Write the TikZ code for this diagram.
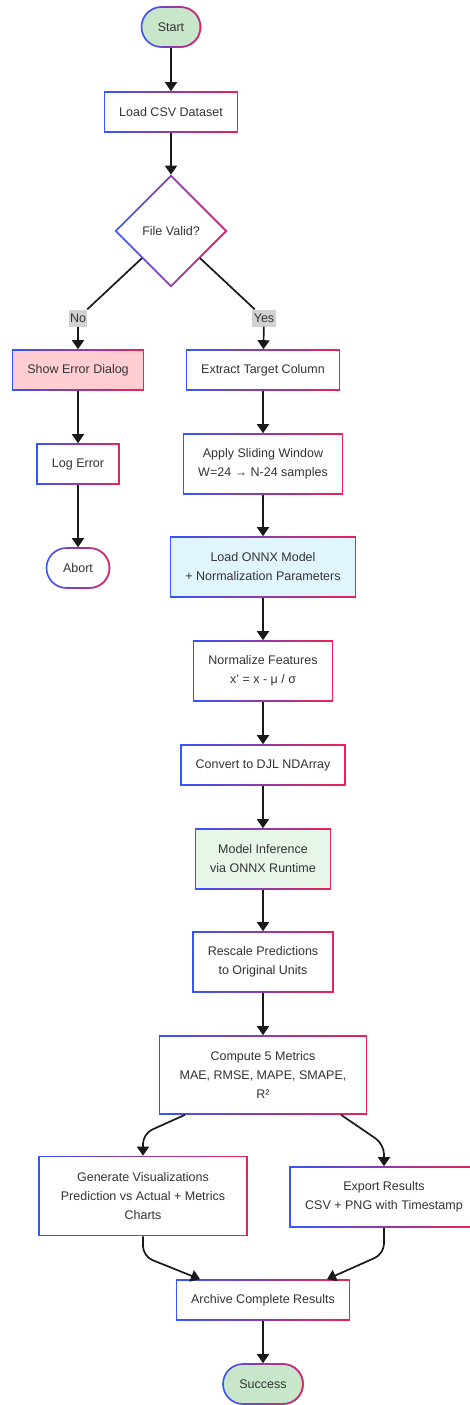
\documentclass[tikz,border=0pt]{standalone}
\usepackage{fontspec}
\setmainfont{Liberation Sans}
\usetikzlibrary{shapes.geometric,shapes.misc,arrows.meta,fadings}

\definecolor{gblue}{RGB}{51,85,255}
\definecolor{gred}{RGB}{238,34,85}
\definecolor{txt}{RGB}{51,51,51}
\definecolor{startgreen}{RGB}{200,230,201}
\definecolor{errpink}{RGB}{255,205,210}
\definecolor{onnxblue}{RGB}{225,245,254}
\definecolor{infergreen}{RGB}{232,245,233}

\tikzfading[name=fadered, left color=transparent!100, right color=transparent!0]

\tikzset{
  gradborder/.style={draw=gblue, line width=1.6pt,
    postaction={draw=gred, line width=1.6pt, path fading=fadered}},
  flowbox/.style={rectangle, gradborder, fill=white, text=txt, align=center,
    minimum height=40pt, inner sep=2pt,
    font=\fontsize{12.5}{19}\selectfont},
  terminal/.style={flowbox, rounded rectangle},
  decision/.style={flowbox, diamond, minimum width=111pt, minimum height=111pt},
  edgelabel/.style={fill=gray!35, text=txt, inner sep=1.5pt, minimum height=17pt,
    font=\fontsize{12.5}{15}\selectfont},
  line/.style={line width=1.7pt, draw=black!90},
  arr/.style={line, -{Triangle[width=12pt,length=9pt]}}
}

\begin{document}
\begin{tikzpicture}[x=1pt, y=-1pt]
\useasboundingbox (0,0) rectangle (469,1405);

% main column
\node[terminal, fill=startgreen, minimum width=63pt] (start) at (171,27) {Start};
\node[flowbox, minimum width=133pt] (load) at (171,112) {Load CSV Dataset};
\node[decision] (valid) at (171,231) {File Valid?};
\node[edgelabel] (no) at (78,318) {No};
\node[edgelabel] (yes) at (264,318) {Yes};

% error branch
\node[flowbox, fill=errpink, minimum width=131pt] (errdlg) at (78,370) {Show Error Dialog};
\node[flowbox, minimum width=82pt] (logerr) at (78,464) {Log Error};
\node[terminal, minimum width=67pt] (abort) at (78,568) {Abort};

% processing branch
\node[flowbox, minimum width=153pt] (extract) at (263,370) {Extract Target Column};
\node[flowbox, minimum width=159pt, minimum height=60pt] (window) at (263,464)
  {Apply Sliding Window\\W=24 → N-24 samples};
\node[flowbox, fill=onnxblue, minimum width=185pt, minimum height=60pt] (onnx) at (263,567)
  {Load ONNX Model\\+ Normalization Parameters};
\node[flowbox, minimum width=139pt, minimum height=60pt] (normal) at (263,671)
  {Normalize Features\\x' = x - μ / σ};
\node[flowbox, minimum width=164pt] (convert) at (263,765) {Convert to DJL NDArray};
\node[flowbox, fill=infergreen, minimum width=135pt, minimum height=60pt] (infer) at (263,859)
  {Model Inference\\via ONNX Runtime};
\node[flowbox, minimum width=140pt, minimum height=60pt] (rescale) at (263,962)
  {Rescale Predictions\\to Original Units};
\node[flowbox, minimum width=207pt, minimum height=78pt] (metrics) at (263,1075)
  {Compute 5 Metrics\\MAE, RMSE, MAPE, SMAPE,\\R²};
\node[flowbox, minimum width=208pt, minimum height=79pt] (visual) at (143,1196)
  {Generate Visualizations\\Prediction vs Actual + Metrics\\Charts};
\node[flowbox, minimum width=188pt, minimum height=60pt] (export) at (384,1197)
  {Export Results\\CSV + PNG with Timestamp};
\node[flowbox, minimum width=173pt] (archive) at (263,1300) {Archive Complete Results};
\node[terminal, fill=startgreen, minimum width=84pt] (success) at (263,1384) {Success};

% connectors
\draw[arr] (start) -- (load);
\draw[arr] (load) -- (valid);
\draw[line] (valid) -- (no);
\draw[line] (valid) -- (yes);
\draw[arr] (no) -- (errdlg);
\draw[arr] (yes) -- (extract);
\foreach \a/\b in {errdlg/logerr, logerr/abort, extract/window, window/onnx,
  onnx/normal, normal/convert, convert/infer, infer/rescale, rescale/metrics,
  archive/success}
  \draw[arr] (\a) -- (\b);
\draw[arr, rounded corners=10pt] ([xshift=-78pt]metrics.south) -- ([yshift=22pt]visual.north) -- (visual.north);
\draw[arr, rounded corners=10pt] ([xshift=78pt]metrics.south) -- ([yshift=22pt]export.north) -- (export.north);
\draw[arr, rounded corners=10pt] (visual.south) -- ([yshift=-20pt]visual.south) -- ([xshift=-63pt]archive.north);
\draw[arr, rounded corners=10pt] (export.south) -- ([yshift=-26pt]export.south) -- ([xshift=64pt]archive.north);
\end{tikzpicture}
\end{document}
